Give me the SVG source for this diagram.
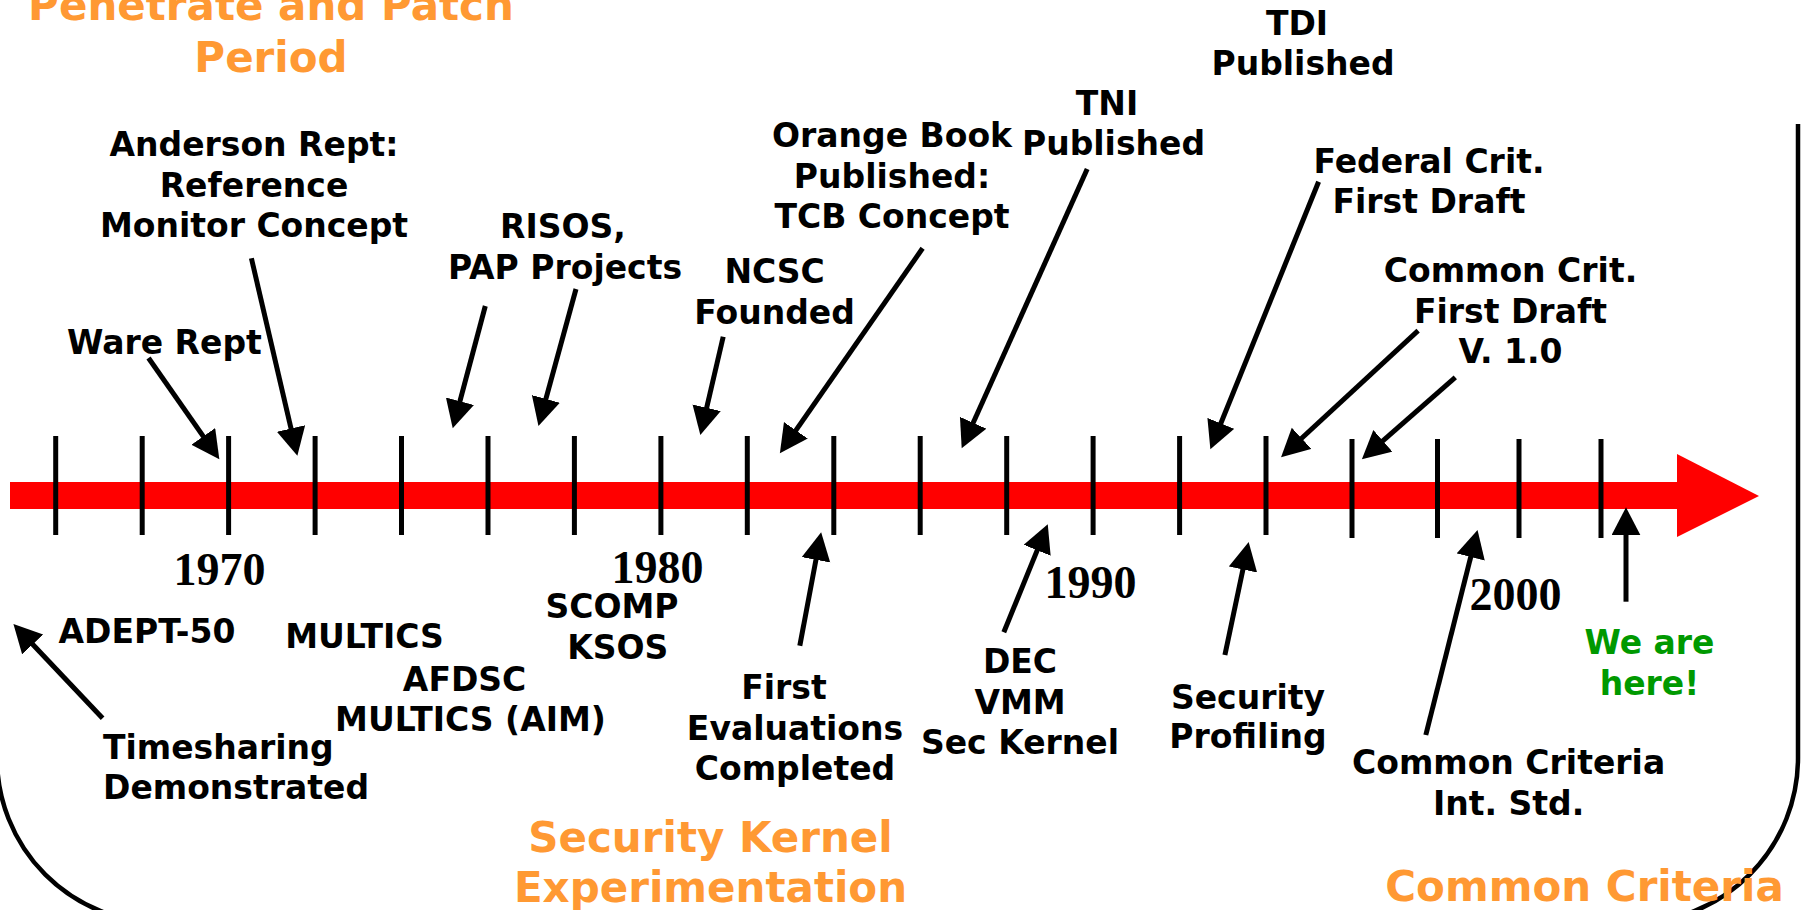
<svg xmlns="http://www.w3.org/2000/svg" width="1804" height="910" viewBox="0 0 1804 910">
  <defs>
    <style>
      .lbl { font-family: "DejaVu Sans", Verdana, sans-serif; font-weight: bold; font-size: 33px; fill: #000000; text-anchor: middle; }
      .left { text-anchor: start; }
      .era { font-size: 42px; fill: #FF9933; }
      .here { fill: #009900; }
      .yr { font-family: "Liberation Serif", "Times New Roman", serif; font-weight: bold; font-size: 46px; fill: #000000; text-anchor: middle; }
      .tick { stroke: #000000; stroke-width: 5; }
      .conn { stroke: #000000; stroke-width: 5; fill: none; marker-end: url(#head); }
    </style>
    <marker id="head" markerUnits="userSpaceOnUse" markerWidth="30" markerHeight="30" refX="18" refY="14.5" orient="auto" viewBox="0 0 30 30">
      <path d="M0,0 L28,14.5 L0,29 Z" fill="#000000"/>
    </marker>
  </defs>
  <rect x="0" y="0" width="1804" height="910" fill="#FFFFFF"/>

  <g id="frame">
    <path d="M1798,124 V758 A165,165 0 0 1 1633,923 H162 A165,165 0 0 1 -3,758 V600" fill="none" stroke="#000000" stroke-width="4.5"/>
  </g>

  <g id="timeline">
    <rect x="10" y="482" width="1668" height="27" fill="#FF0000"/>
    <polygon points="1677,454 1759,496 1677,537" fill="#FF0000"/>
    <g id="ticks">
      <line class="tick" x1="55.7" y1="436" x2="55.7" y2="535"/>
      <line class="tick" x1="142.2" y1="436" x2="142.2" y2="535"/>
      <line class="tick" x1="228.6" y1="436" x2="228.6" y2="535"/>
      <line class="tick" x1="315.1" y1="436" x2="315.1" y2="535"/>
      <line class="tick" x1="401.5" y1="436" x2="401.5" y2="535"/>
      <line class="tick" x1="488" y1="436" x2="488" y2="535"/>
      <line class="tick" x1="574.4" y1="436" x2="574.4" y2="535"/>
      <line class="tick" x1="660.9" y1="436" x2="660.9" y2="535"/>
      <line class="tick" x1="747.3" y1="436" x2="747.3" y2="535"/>
      <line class="tick" x1="833.8" y1="436" x2="833.8" y2="535"/>
      <line class="tick" x1="920.2" y1="436" x2="920.2" y2="535"/>
      <line class="tick" x1="1006.7" y1="436" x2="1006.7" y2="535"/>
      <line class="tick" x1="1093.1" y1="436" x2="1093.1" y2="535"/>
      <line class="tick" x1="1179.6" y1="436" x2="1179.6" y2="535"/>
      <line class="tick" x1="1266" y1="436" x2="1266" y2="535"/>
      <line class="tick" x1="1352" y1="439" x2="1352" y2="538"/>
      <line class="tick" x1="1437.5" y1="439" x2="1437.5" y2="538"/>
      <line class="tick" x1="1519" y1="439" x2="1519" y2="538"/>
      <line class="tick" x1="1601" y1="439" x2="1601" y2="538"/>
    </g>
    <g id="years">
      <text class="yr" x="219.5" y="585">1970</text>
      <text class="yr" x="657.4" y="583">1980</text>
      <text class="yr" x="1090.4" y="598">1990</text>
      <text class="yr" x="1515.5" y="610">2000</text>
    </g>
  </g>

  <g id="connectors">
    <path class="conn" d="M148.5,358 L213.6,451.1"/>
    <path class="conn" d="M251.4,258.3 L295.1,446"/>
    <path class="conn" d="M485.3,306 L455.3,418.6"/>
    <path class="conn" d="M576,289 L541.1,416.3"/>
    <path class="conn" d="M723.2,336.7 L702.6,425.3"/>
    <path class="conn" d="M922.6,248.3 L785.6,445.1"/>
    <path class="conn" d="M1087.2,169 L965.8,439.2"/>
    <path class="conn" d="M1318.6,181.7 L1214.1,440"/>
    <path class="conn" d="M1418.1,330.7 L1288.4,450.5"/>
    <path class="conn" d="M1455.3,377.3 L1369.4,452.7"/>
    <path class="conn" d="M102.6,718.3 L20.3,631.3"/>
    <path class="conn" d="M799.8,645.7 L819.3,542.1"/>
    <path class="conn" d="M1003.8,632.3 L1044,533.6"/>
    <path class="conn" d="M1224.9,655 L1246.6,551.9"/>
    <path class="conn" d="M1425.8,735 L1475.1,539.6"/>
    <path class="conn" d="M1626,601.7 L1626,517.3"/>
  </g>

  <g id="era-penetrate">
    <text class="lbl era" x="271" y="20">Penetrate and Patch</text>
    <text class="lbl era" x="271" y="72">Period</text>
  </g>
  <g id="era-kernel">
    <text class="lbl era" x="710.5" y="851.5">Security Kernel</text>
    <text class="lbl era" x="710.5" y="902">Experimentation</text>
  </g>
  <g id="era-cc">
    <text class="lbl era" x="1584.5" y="901">Common Criteria</text>
  </g>

  <g id="anderson">
    <text class="lbl" x="254" y="156">Anderson Rept:</text>
    <text class="lbl" x="254" y="197">Reference</text>
    <text class="lbl" x="254" y="237">Monitor Concept</text>
  </g>
  <g id="ware">
    <text class="lbl" x="164.4" y="354">Ware Rept</text>
  </g>
  <g id="risos">
    <text class="lbl" x="563" y="238">RISOS,</text>
    <text class="lbl" x="565" y="279">PAP Projects</text>
  </g>
  <g id="ncsc">
    <text class="lbl" x="774.6" y="283">NCSC</text>
    <text class="lbl" x="774.6" y="323.5">Founded</text>
  </g>
  <g id="orange-book">
    <text class="lbl" x="892" y="147">Orange Book</text>
    <text class="lbl" x="892" y="187.5">Published:</text>
    <text class="lbl" x="892" y="228">TCB Concept</text>
  </g>
  <g id="tni">
    <text class="lbl" x="1107" y="115">TNI</text>
    <text class="lbl" x="1113.5" y="155">Published</text>
  </g>
  <g id="tdi">
    <text class="lbl" x="1297" y="35">TDI</text>
    <text class="lbl" x="1303" y="75">Published</text>
  </g>
  <g id="federal">
    <text class="lbl" x="1429" y="172.7">Federal Crit.</text>
    <text class="lbl" x="1429" y="212.7">First Draft</text>
  </g>
  <g id="common-crit">
    <text class="lbl" x="1510.5" y="282">Common Crit.</text>
    <text class="lbl" x="1510.5" y="322.5">First Draft</text>
    <text class="lbl" x="1510.5" y="363">V. 1.0</text>
  </g>

  <g id="adept">
    <text class="lbl" x="147" y="642.7">ADEPT-50</text>
  </g>
  <g id="timesharing">
    <text class="lbl left" x="103" y="759.3">Timesharing</text>
    <text class="lbl left" x="103" y="799">Demonstrated</text>
  </g>
  <g id="multics">
    <text class="lbl" x="364.5" y="647.7">MULTICS</text>
  </g>
  <g id="afdsc">
    <text class="lbl" x="464.6" y="690.7">AFDSC</text>
    <text class="lbl" x="470.5" y="730.5">MULTICS (AIM)</text>
  </g>
  <g id="scomp">
    <text class="lbl" x="612" y="618">SCOMP</text>
    <text class="lbl" x="617.8" y="659">KSOS</text>
  </g>
  <g id="first-eval">
    <text class="lbl" x="784" y="699.3">First</text>
    <text class="lbl" x="795" y="740">Evaluations</text>
    <text class="lbl" x="795" y="780">Completed</text>
  </g>
  <g id="dec">
    <text class="lbl" x="1020" y="673.3">DEC</text>
    <text class="lbl" x="1020" y="714.3">VMM</text>
    <text class="lbl" x="1020" y="754">Sec Kernel</text>
  </g>
  <g id="profiling">
    <text class="lbl" x="1248" y="708.5">Security</text>
    <text class="lbl" x="1248" y="748">Profiling</text>
  </g>
  <g id="cc-std">
    <text class="lbl" x="1508.6" y="774">Common Criteria</text>
    <text class="lbl" x="1508.6" y="815">Int. Std.</text>
  </g>
  <g id="here">
    <text class="lbl here" x="1649.5" y="654">We are</text>
    <text class="lbl here" x="1649.5" y="695">here!</text>
  </g>
</svg>
